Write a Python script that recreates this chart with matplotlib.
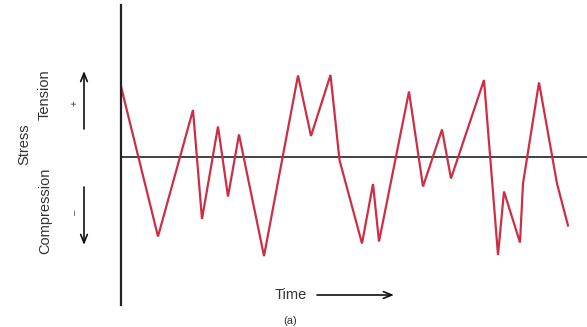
import numpy as np
import matplotlib
matplotlib.use('Agg')
import matplotlib.pyplot as plt
from matplotlib.patches import FancyArrowPatch

plt.rcParams['font.family'] = ['Liberation Sans', 'DejaVu Sans']

# stress history (time in arbitrary units, stress +tension / -compression)
time = [0.0, 3.7, 7.2, 8.1, 9.7, 10.7, 11.8, 14.3, 17.7, 19.0, 20.95, 21.85,
        24.1, 25.2, 25.8, 28.8, 30.2, 32.1, 33.0, 36.3, 37.7, 38.3, 39.9,
        40.2, 41.8, 43.6, 44.7]
stress = [7.0, -8.0, 4.65, -6.25, 3.0, -4.0, 2.2, -9.95, 8.1, 2.05, 8.15, -0.35,
          -8.7, -2.75, -8.5, 6.5, -3.0, 2.7, -2.2, 7.65, -9.85, -3.5, -8.6,
          -2.7, 7.4, -2.7, -6.9]

W, H = 587, 327
fig = plt.figure(figsize=(W / 100, H / 100), dpi=100)
ax = fig.add_axes([121 / W, 22 / H, 466 / W, 300 / H])

ax.plot(time, stress, color='#cc2f45', lw=1.6, solid_joinstyle='miter')
ax.axhline(0, color='#222222', lw=1.2, zorder=1)

ax.set_xlim(0, 46.6)
ax.set_ylim(-14.85, 15.15)
for side in ['top', 'right', 'bottom']:
    ax.spines[side].set_visible(False)
ax.spines['left'].set_linewidth(1.6)
ax.spines['left'].set_color('#222222')
ax.set_xticks([])
ax.set_yticks([])

txt = '#333333'

def fpx(x, y):
    # image pixel coords (origin top-left) -> figure fraction
    return x / W, 1 - y / H

fig.text(*fpx(24, 144), 'Stress', rotation=90, ha='center', va='center', fontsize=10.5, color=txt)
fig.text(*fpx(45, 95), 'Tension', rotation=90, ha='center', va='center', fontsize=10.5, color=txt)
fig.text(*fpx(45, 211), 'Compression', rotation=90, ha='center', va='center', fontsize=10.5, color=txt)
fig.text(*fpx(75, 103), '+', rotation=90, ha='center', va='center', fontsize=7, color=txt)
fig.text(*fpx(75, 212), '\u2013', rotation=90, ha='center', va='center', fontsize=7, color='#664466')

arrow = dict(arrowstyle='->,head_length=0.5,head_width=0.2', color='#111111',
             lw=1.2, mutation_scale=12, shrinkA=0, shrinkB=0)
fig.add_artist(FancyArrowPatch(fpx(84, 129), fpx(84, 71), transform=fig.transFigure, **arrow))
fig.add_artist(FancyArrowPatch(fpx(84, 187), fpx(84, 245), transform=fig.transFigure, **arrow))

fig.text(*fpx(291, 295), 'Time', ha='center', va='center', fontsize=10.5, color=txt)
fig.add_artist(FancyArrowPatch(fpx(317, 295), fpx(394, 295), transform=fig.transFigure, **arrow))
fig.text(*fpx(290, 326), '(a)', ha='center', va='bottom', fontsize=8, color=txt)

fig.savefig('out.png', dpi=100)
